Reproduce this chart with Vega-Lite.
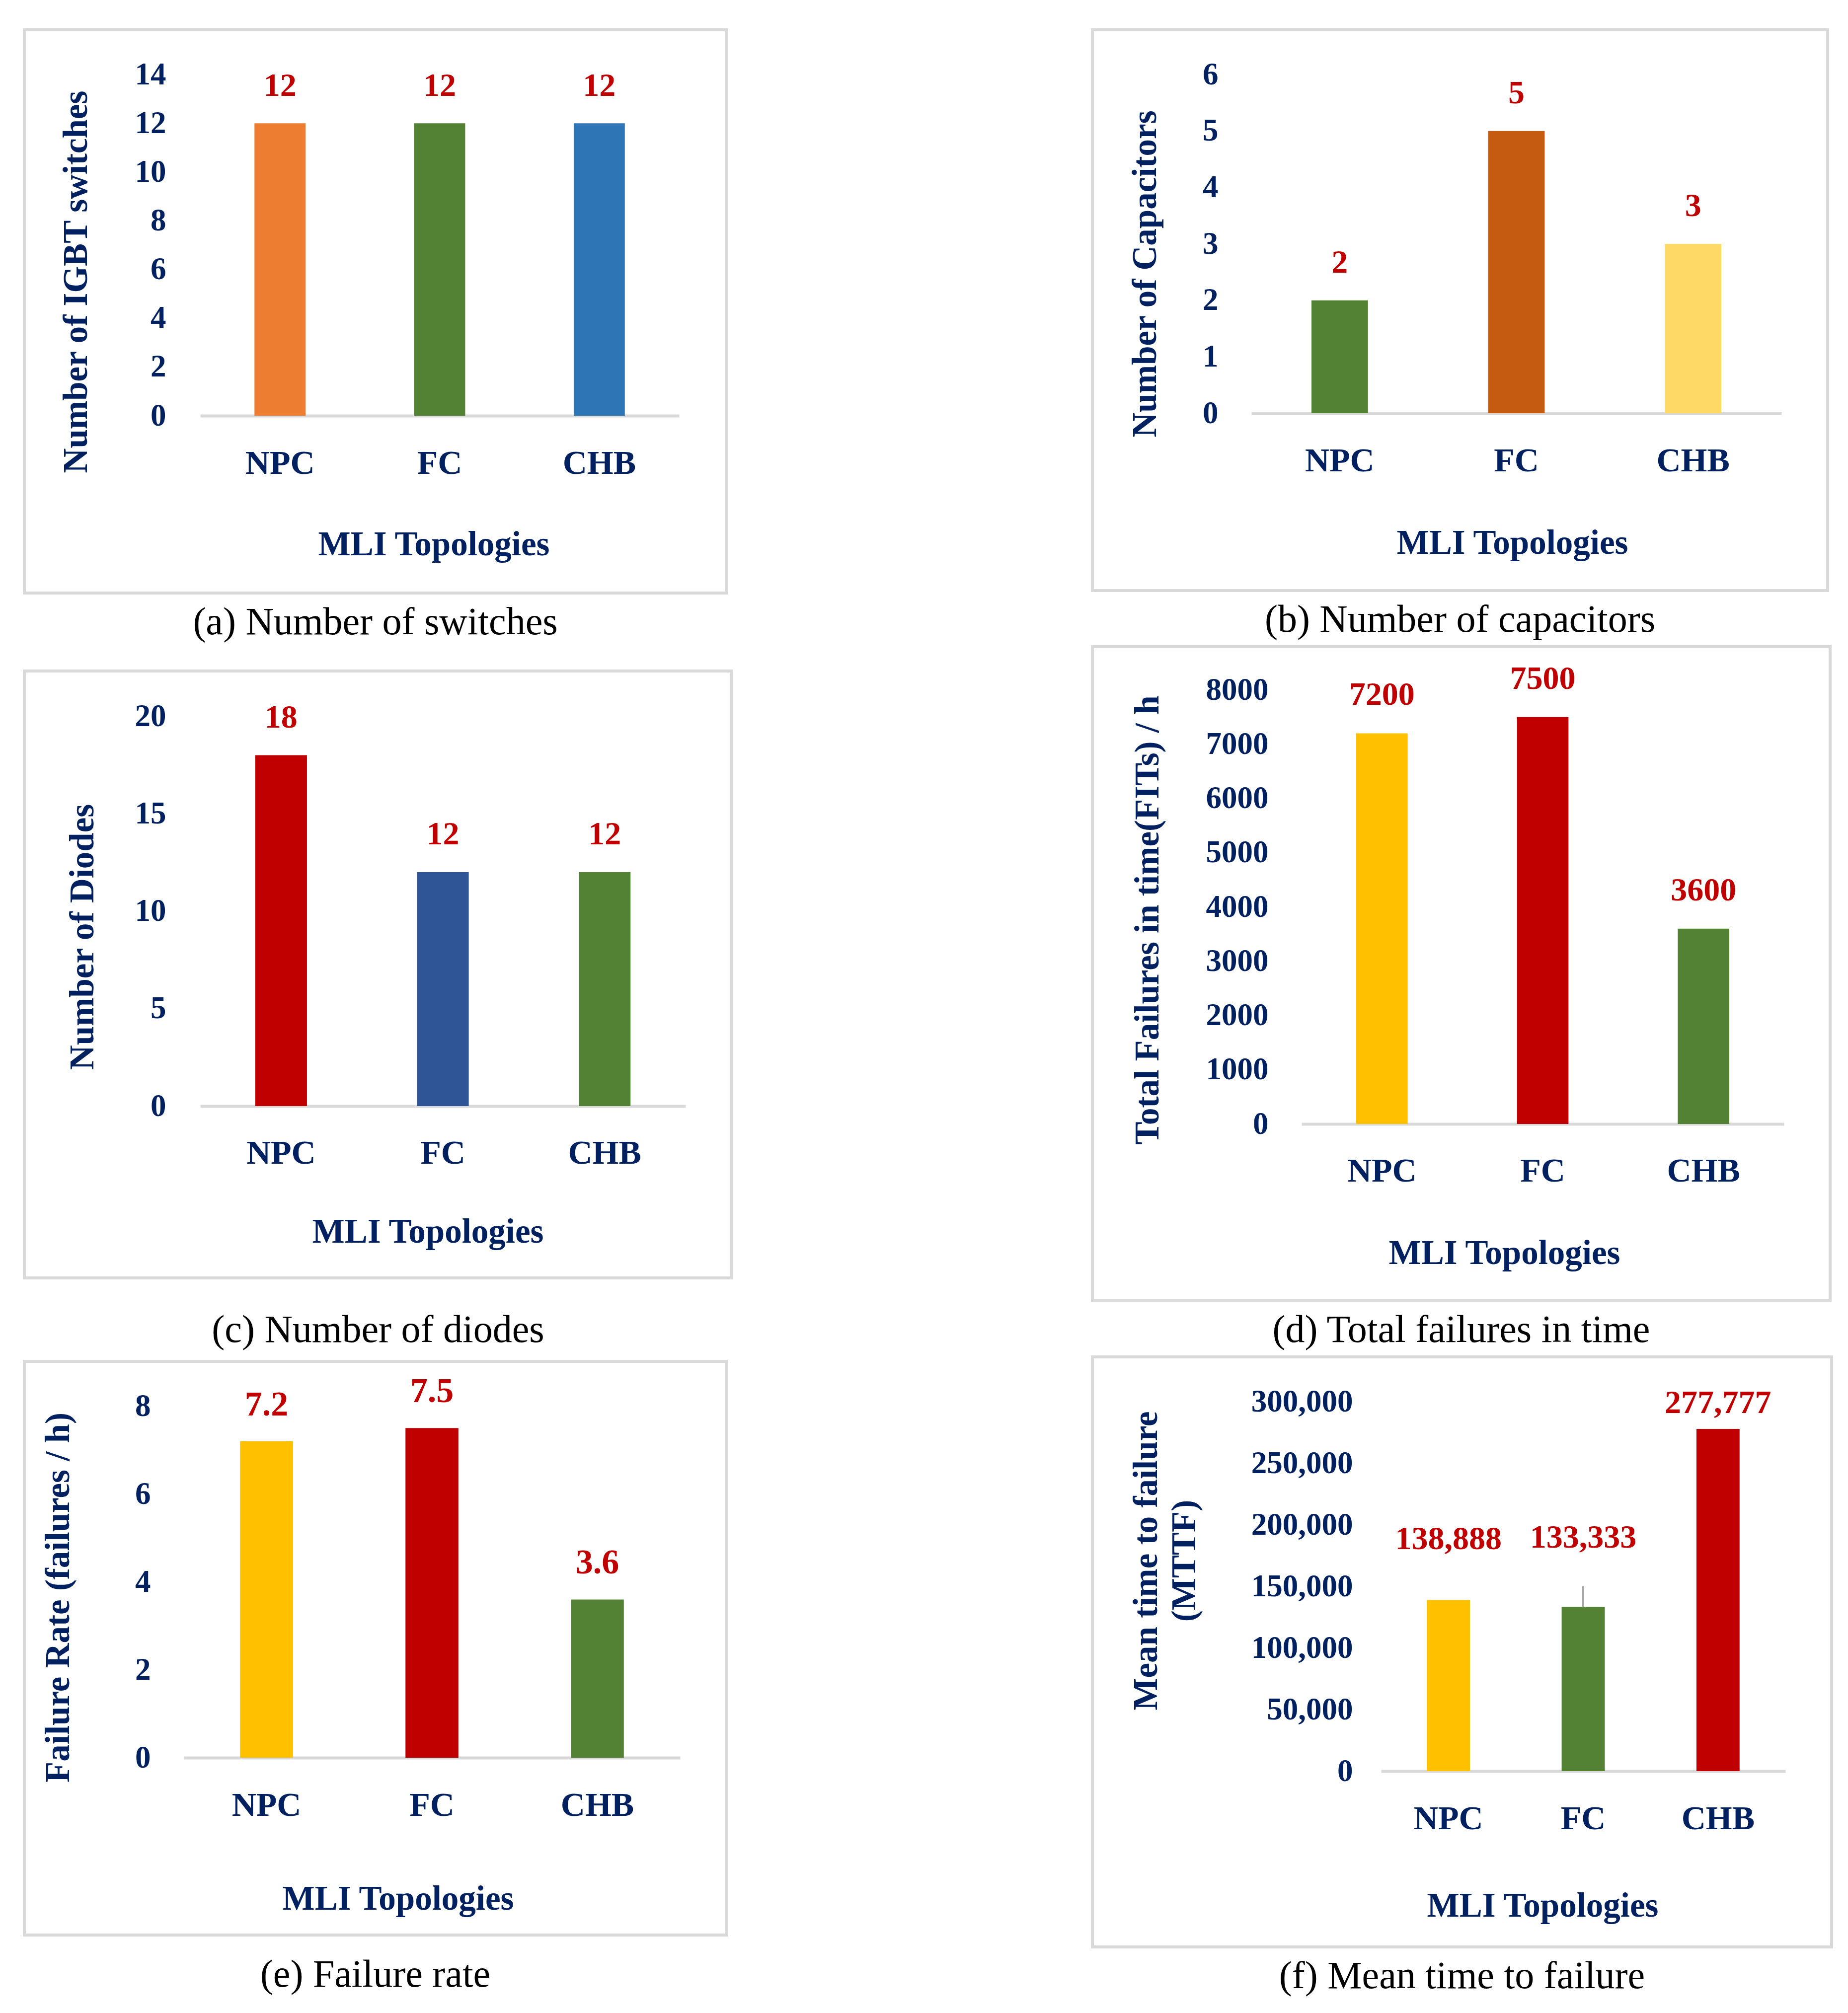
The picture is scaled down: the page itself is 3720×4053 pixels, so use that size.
{
  "$schema": "https://vega.github.io/schema/vega-lite/v6.json",
  "padding": {"left": 46, "top": 57, "right": 0, "bottom": 0},
  "data": {
    "values": [
      {"topology": "NPC", "switches": 12, "capacitors": 2, "diodes": 18, "fits": 7200, "rate": 7.2, "mttf": 138888},
      {"topology": "FC", "switches": 12, "capacitors": 5, "diodes": 12, "fits": 7500, "rate": 7.5, "mttf": 133333},
      {"topology": "CHB", "switches": 12, "capacitors": 3, "diodes": 12, "fits": 3600, "rate": 3.6, "mttf": 277777}
    ]
  },
  "hconcat": [
    {
      "vconcat": [
        {
          "width": 1413, "height": 1134,
          "title": {"text": "(a) Number of switches", "orient": "bottom", "offset": 21},
          "encoding": {
            "x": {"field": "topology", "type": "nominal", "sort": null,
              "scale": {"range": [354, 1318], "paddingInner": 0, "paddingOuter": 0},
              "axis": {"title": "MLI Topologies", "offset": -357, "labelPadding": 96, "titleX": 824, "titleY": 259}},
            "y": {"field": "switches", "type": "quantitative",
              "scale": {"domain": [0, 14], "range": [777, 90], "nice": false},
              "axis": {"title": "Number of IGBT switches", "values": [0, 2, 4, 6, 8, 10, 12, 14], "offset": -300, "titleX": -196, "titleY": 507}}
          },
          "layer": [
            {"mark": {"type": "bar", "width": {"band": 0.32}},
             "encoding": {"color": {"field": "topology", "type": "nominal", "legend": null,
               "scale": {"domain": ["NPC", "FC", "CHB"], "range": ["#ED7D31", "#548235", "#2E75B6"]}}}},
            {"mark": {"type": "text", "dy": -75}, "encoding": {"text": {"field": "switches", "type": "quantitative"}}}
          ]
        },
        {
          "vconcat": [
            {
              "width": 1424, "height": 1222,
              "title": {"text": "(c) Number of diodes", "orient": "bottom", "offset": 67},
              "encoding": {
                "x": {"field": "topology", "type": "nominal", "sort": null,
                  "scale": {"range": [354, 1331], "paddingInner": 0, "paddingOuter": 0},
                  "axis": {"title": "MLI Topologies", "offset": -346, "labelPadding": 95, "titleX": 812, "titleY": 253}},
                "y": {"field": "diodes", "type": "quantitative",
                  "scale": {"domain": [0, 20], "range": [876, 91], "nice": false},
                  "axis": {"title": "Number of  Diodes", "values": [0, 5, 10, 15, 20], "offset": -300, "titleX": -183, "titleY": 535}}
              },
              "layer": [
                {"mark": {"type": "bar", "width": {"band": 0.32}},
                 "encoding": {"color": {"field": "topology", "type": "nominal", "legend": null,
                   "scale": {"domain": ["NPC", "FC", "CHB"], "range": ["#C00000", "#2F5597", "#548235"]}}}},
                {"mark": {"type": "text", "dy": -76}, "encoding": {"text": {"field": "diodes", "type": "quantitative"}}}
              ]
            },
            {
              "width": 1413, "height": 1155,
              "title": {"text": "(e) Failure rate", "orient": "bottom", "offset": 42},
              "encoding": {
                "x": {"field": "topology", "type": "nominal", "sort": null,
                  "scale": {"range": [321, 1320], "paddingInner": 0, "paddingOuter": 0},
                  "axis": {"title": "MLI Topologies", "offset": -357, "labelPadding": 96, "titleX": 752, "titleY": 284}},
                "y": {"field": "rate", "type": "quantitative",
                  "scale": {"domain": [0, 8], "range": [798, 90], "nice": false},
                  "axis": {"title": "Failure Rate (failures / h)", "values": [0, 2, 4, 6, 8], "offset": -269, "titleX": -201, "titleY": 475}}
              },
              "layer": [
                {"mark": {"type": "bar", "width": {"band": 0.32}},
                 "encoding": {"color": {"field": "topology", "type": "nominal", "legend": null,
                   "scale": {"domain": ["NPC", "FC", "CHB"], "range": ["#FFC000", "#C00000", "#548235"]}}}},
                {"mark": {"type": "text", "dy": -73, "fontSize": 70}, "encoding": {"text": {"field": "rate", "type": "quantitative"}}}
              ]
            }
          ],
          "spacing": 17,
          "resolve": {"scale": {"color": "independent"}}
        }
      ],
      "spacing": 52,
      "resolve": {"scale": {"color": "independent"}}
    },
    {
      "vconcat": [
        {
          "width": 1480, "height": 1129,
          "title": {"text": "(b) Number of capacitors", "orient": "bottom", "offset": 21},
          "encoding": {
            "x": {"field": "topology", "type": "nominal", "sort": null,
              "scale": {"range": [320, 1387], "paddingInner": 0, "paddingOuter": 0},
              "axis": {"title": "MLI Topologies", "offset": -357, "labelPadding": 96, "titleX": 845, "titleY": 261}},
            "y": {"field": "capacitors", "type": "quantitative",
              "scale": {"domain": [0, 6], "range": [772, 90], "nice": false},
              "axis": {"title": "Number of  Capacitors", "values": [0, 1, 2, 3, 4, 5, 6], "offset": -268, "titleX": -162, "titleY": 491}}
          },
          "layer": [
            {"mark": {"type": "bar", "width": {"band": 0.32}},
             "encoding": {"color": {"field": "topology", "type": "nominal", "legend": null,
               "scale": {"domain": ["NPC", "FC", "CHB"], "range": ["#548235", "#C55A11", "#FFD966"]}}}},
            {"mark": {"type": "text", "dy": -76}, "encoding": {"text": {"field": "capacitors", "type": "quantitative"}}}
          ]
        },
        {
          "width": 1485, "height": 1317,
          "title": {"text": "(d) Total failures in time", "orient": "bottom", "offset": 21},
          "encoding": {
            "x": {"field": "topology", "type": "nominal", "sort": null,
              "scale": {"range": [421, 1392], "paddingInner": 0, "paddingOuter": 0},
              "axis": {"title": "MLI Topologies", "offset": -356, "labelPadding": 95, "titleX": 829, "titleY": 260}},
            "y": {"field": "fits", "type": "quantitative",
              "scale": {"domain": [0, 8000], "range": [961, 87], "nice": false},
              "axis": {"title": "Total Failures in time(FITs) / h", "format": "d", "values": [0, 1000, 2000, 3000, 4000, 5000, 6000, 7000, 8000], "offset": -369, "titleX": -258, "titleY": 550}}
          },
          "layer": [
            {"mark": {"type": "bar", "width": {"band": 0.32}},
             "encoding": {"color": {"field": "topology", "type": "nominal", "legend": null,
               "scale": {"domain": ["NPC", "FC", "CHB"], "range": ["#FFC000", "#C00000", "#548235"]}}}},
            {"mark": {"type": "text", "dy": -77}, "encoding": {"text": {"field": "fits", "type": "quantitative", "format": "d"}}}
          ]
        },
        {
          "width": 1488, "height": 1188,
          "title": {"text": "(f) Mean time to failure", "orient": "bottom", "offset": 21},
          "encoding": {
            "x": {"field": "topology", "type": "nominal", "sort": null,
              "scale": {"range": [581, 1395], "paddingInner": 0, "paddingOuter": 0},
              "axis": {"title": "MLI Topologies", "offset": -354, "labelPadding": 96, "titleX": 906, "titleY": 271}},
            "y": {"field": "mttf", "type": "quantitative",
              "scale": {"domain": [0, 300000], "range": [834, 90], "nice": false},
              "axis": {"title": ["Mean time  to failure", "(MTTF)"], "titleLineHeight": 77, "format": ",.0f", "values": [0, 50000, 100000, 150000, 200000, 250000, 300000], "offset": -539, "titleX": -431, "titleY": 410}}
          },
          "layer": [
            {"mark": {"type": "bar", "width": {"band": 0.32}},
             "encoding": {"color": {"field": "topology", "type": "nominal", "legend": null,
               "scale": {"domain": ["NPC", "FC", "CHB"], "range": ["#FFC000", "#548235", "#C00000"]}}}},
            {"transform": [{"filter": {"field": "topology", "equal": "FC"}}],
             "mark": {"type": "rule", "color": "#A6A6A6", "strokeWidth": 4},
             "encoding": {"y2": {"datum": 150000}}},
            {"transform": [{"filter": {"field": "topology", "equal": "CHB"}}],
             "mark": {"type": "text", "dy": -52}, "encoding": {"text": {"field": "mttf", "type": "quantitative", "format": ","}}},
            {"transform": [{"filter": {"field": "topology", "equal": "NPC"}}],
             "mark": {"type": "text", "dy": -123}, "encoding": {"text": {"field": "mttf", "type": "quantitative", "format": ","}}},
            {"transform": [{"filter": {"field": "topology", "equal": "FC"}}],
             "mark": {"type": "text", "dy": -139}, "encoding": {"text": {"field": "mttf", "type": "quantitative", "format": ","}}}
          ]
        }
      ],
      "spacing": 8,
      "resolve": {"scale": {"color": "independent"}}
    }
  ],
  "spacing": 720,
  "resolve": {"scale": {"color": "independent"}},
  "config": {
    "font": "Liberation Serif",
    "view": {"stroke": "#D9D9D9", "strokeWidth": 6},
    "axis": {
      "grid": false, "ticks": false, "tickSize": 0, "labelLimit": 0, "titleLimit": 0,
      "labelFont": "Liberation Serif", "labelFontWeight": "bold", "labelColor": "#002060", "labelFontSize": 63,
      "titleFont": "Liberation Serif", "titleFontWeight": "bold", "titleColor": "#002060", "titleFontSize": 69,
      "titleAlign": "center", "titleBaseline": "middle"
    },
    "axisX": {"labelAngle": 0, "labelFontSize": 68, "labelBaseline": "middle", "domainColor": "#D9D9D9", "domainWidth": 6},
    "axisY": {"domain": false, "labelPadding": 15, "titleAngle": -90},
    "title": {"font": "Liberation Serif", "fontSize": 78, "fontWeight": "normal", "color": "#000000", "anchor": "middle", "baseline": "top"},
    "text": {"font": "Liberation Serif", "fontSize": 66, "fontWeight": "bold", "color": "#C00000", "baseline": "middle"}
  }
}
